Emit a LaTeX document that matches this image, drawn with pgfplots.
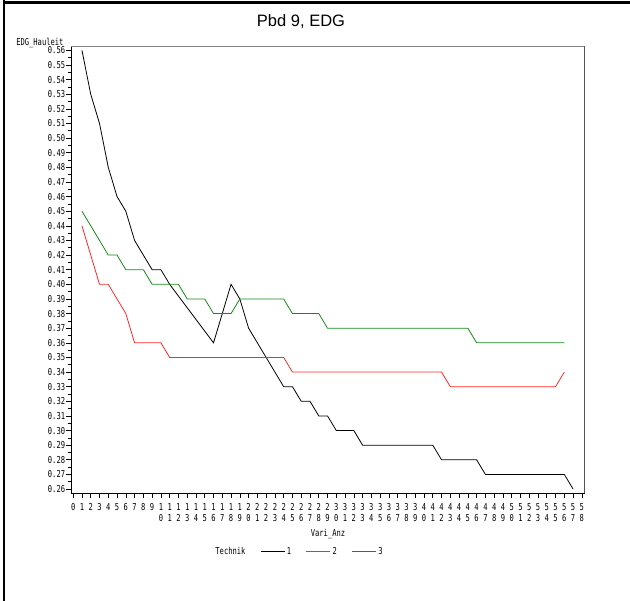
\documentclass[border=0pt]{standalone}
\usepackage{pgfplots}
\pgfplotsset{compat=1.18}
\usepackage{fontspec}
\setmainfont{Liberation Sans}
\newfontfamily\sasfont{DejaVu Sans Mono}
\newcommand{\sas}[1]{\scalebox{0.75}[1]{#1}}
\definecolor{sasred}{RGB}{255,40,40}
\definecolor{sasgreen}{RGB}{20,140,20}
\begin{document}
\begin{tikzpicture}[x=1pt,y=1pt]
\useasboundingbox (0,0) rectangle (630,601);
\fill[black] (3,0) rectangle (5.3,601);
\fill[black] (3,597) rectangle (630,599.5);
\node[font=\fontsize{16.5}{16.5}\selectfont] at (301,579) {Pbd 9, EDG};
\begin{axis}[
  at={(71pt,108pt)}, anchor=south west,
  scale only axis, width=513.5pt, height=446.3pt,
  xmin=-0.25, xmax=58.3, ymin=0.2573, ymax=0.5625,
  axis line style={black, line width=0.8pt},
  tick align=outside, major tick length=5pt, minor tick length=3pt,
  tick style={black, line width=0.6pt},
  xtick pos=bottom, ytick pos=left,
  xtick={0,...,58},
  xticklabels={0,1,2,3,4,5,6,7,8,9,{1\\0},{1\\1},{1\\2},{1\\3},{1\\4},{1\\5},{1\\6},{1\\7},{1\\8},{1\\9},{2\\0},{2\\1},{2\\2},{2\\3},{2\\4},{2\\5},{2\\6},{2\\7},{2\\8},{2\\9},{3\\0},{3\\1},{3\\2},{3\\3},{3\\4},{3\\5},{3\\6},{3\\7},{3\\8},{3\\9},{4\\0},{4\\1},{4\\2},{4\\3},{4\\4},{4\\5},{4\\6},{4\\7},{4\\8},{4\\9},{5\\0},{5\\1},{5\\2},{5\\3},{5\\4},{5\\5},{5\\6},{5\\7},{5\\8}},
  xticklabel style={align=center, font=\sasfont\fontsize{9.5}{11}\selectfont, xscale=0.75, inner sep=1pt, yshift=-4pt},
  ytick={0.26,0.27,0.28,0.29,0.30,0.31,0.32,0.33,0.34,0.35,0.36,0.37,0.38,0.39,0.40,0.41,0.42,0.43,0.44,0.45,0.46,0.47,0.48,0.49,0.50,0.51,0.52,0.53,0.54,0.55,0.56},
  minor y tick num=1,
  yticklabel style={font=\sasfont\fontsize{9.5}{11}\selectfont, xscale=0.75, inner sep=1pt,
    /pgf/number format/.cd, fixed, fixed zerofill, precision=2, assume math mode=true},
  xlabel={\sas{Vari\_Anz}},
  xlabel style={font=\sasfont\fontsize{9.5}{11}\selectfont, at={(axis description cs:0.5005,-0.0919)}, anchor=center},
  ylabel={\sas{EDG\_Hauleit}},
  ylabel style={font=\sasfont\fontsize{9.5}{11}\selectfont, rotate=-90, at={(axis description cs:-0.0078,1.0083)}, anchor=east},
  legend columns=-1,
  legend style={draw=none, fill=none, at={(axis description cs:0.278,-0.131)}, anchor=west,
    font=\sasfont\fontsize{9.5}{11}\selectfont, inner sep=0pt,
    /tikz/every even column/.append style={column sep=13pt},
    nodes={inner sep=1.5pt}},
  legend image code/.code={\draw[#1] (0pt,0pt) -- (24pt,0pt);},
]
\addplot[black, line width=0.8pt, forget plot] coordinates {
(1,0.56)(2,0.53)(3,0.51)(4,0.48)(5,0.46)(6,0.45)(7,0.43)(8,0.42)(9,0.41)(10,0.41)
(11,0.40)(16,0.36)(18,0.40)(19,0.39)(20,0.37)(21,0.36)(22,0.35)(23,0.34)(24,0.33)(25,0.33)
(26,0.32)(27,0.32)(28,0.31)(29,0.31)(30,0.30)(31,0.30)(32,0.30)(33,0.29)(34,0.29)(35,0.29)
(36,0.29)(37,0.29)(38,0.29)(39,0.29)(40,0.29)(41,0.29)(42,0.28)(43,0.28)(44,0.28)(45,0.28)
(46,0.28)(47,0.27)(48,0.27)(49,0.27)(50,0.27)(51,0.27)(52,0.27)(53,0.27)(54,0.27)(55,0.27)
(56,0.27)(57,0.26)};
\addplot[sasred, line width=0.8pt, forget plot] coordinates {
(1,0.44)(3,0.40)(4,0.40)(6,0.38)(7,0.36)(8,0.36)(9,0.36)(10,0.36)(11,0.35)(12,0.35)
(13,0.35)(14,0.35)(15,0.35)(16,0.35)(17,0.35)(18,0.35)(19,0.35)(20,0.35)(21,0.35)(22,0.35)
(23,0.35)(24,0.35)(25,0.34)(26,0.34)(27,0.34)(28,0.34)(29,0.34)(30,0.34)(31,0.34)(32,0.34)
(33,0.34)(34,0.34)(35,0.34)(36,0.34)(37,0.34)(38,0.34)(39,0.34)(40,0.34)(41,0.34)(42,0.34)
(43,0.33)(44,0.33)(45,0.33)(46,0.33)(47,0.33)(48,0.33)(49,0.33)(50,0.33)(51,0.33)(52,0.33)
(53,0.33)(54,0.33)(55,0.33)(56,0.34)};
\addplot[sasgreen, line width=0.8pt, forget plot] coordinates {
(1,0.45)(4,0.42)(5,0.42)(6,0.41)(7,0.41)(8,0.41)(9,0.40)(10,0.40)(11,0.40)(12,0.40)
(13,0.39)(14,0.39)(15,0.39)(16,0.38)(17,0.38)(18,0.38)(19,0.39)(20,0.39)(21,0.39)(22,0.39)
(23,0.39)(24,0.39)(25,0.38)(26,0.38)(27,0.38)(28,0.38)(29,0.37)(30,0.37)(31,0.37)(32,0.37)
(33,0.37)(34,0.37)(35,0.37)(36,0.37)(37,0.37)(38,0.37)(39,0.37)(40,0.37)(41,0.37)(42,0.37)
(43,0.37)(44,0.37)(45,0.37)(46,0.36)(47,0.36)(48,0.36)(49,0.36)(50,0.36)(51,0.36)(52,0.36)
(53,0.36)(54,0.36)(55,0.36)(56,0.36)};
\addlegendimage{empty legend}
\addlegendentry{\sas{Technik}}
\addlegendimage{draw=black, line width=1.4pt}
\addlegendentry{\sas{1}}
\addlegendimage{draw=sasred, line width=1.4pt}
\addlegendentry{\sas{2}}
\addlegendimage{draw=sasgreen, line width=1.4pt}
\addlegendentry{\sas{3}}
\draw[gray, line width=0.8pt] (rel axis cs:0,1) -- (rel axis cs:1,1) -- (rel axis cs:1,0);
\end{axis}
\end{tikzpicture}
\end{document}
